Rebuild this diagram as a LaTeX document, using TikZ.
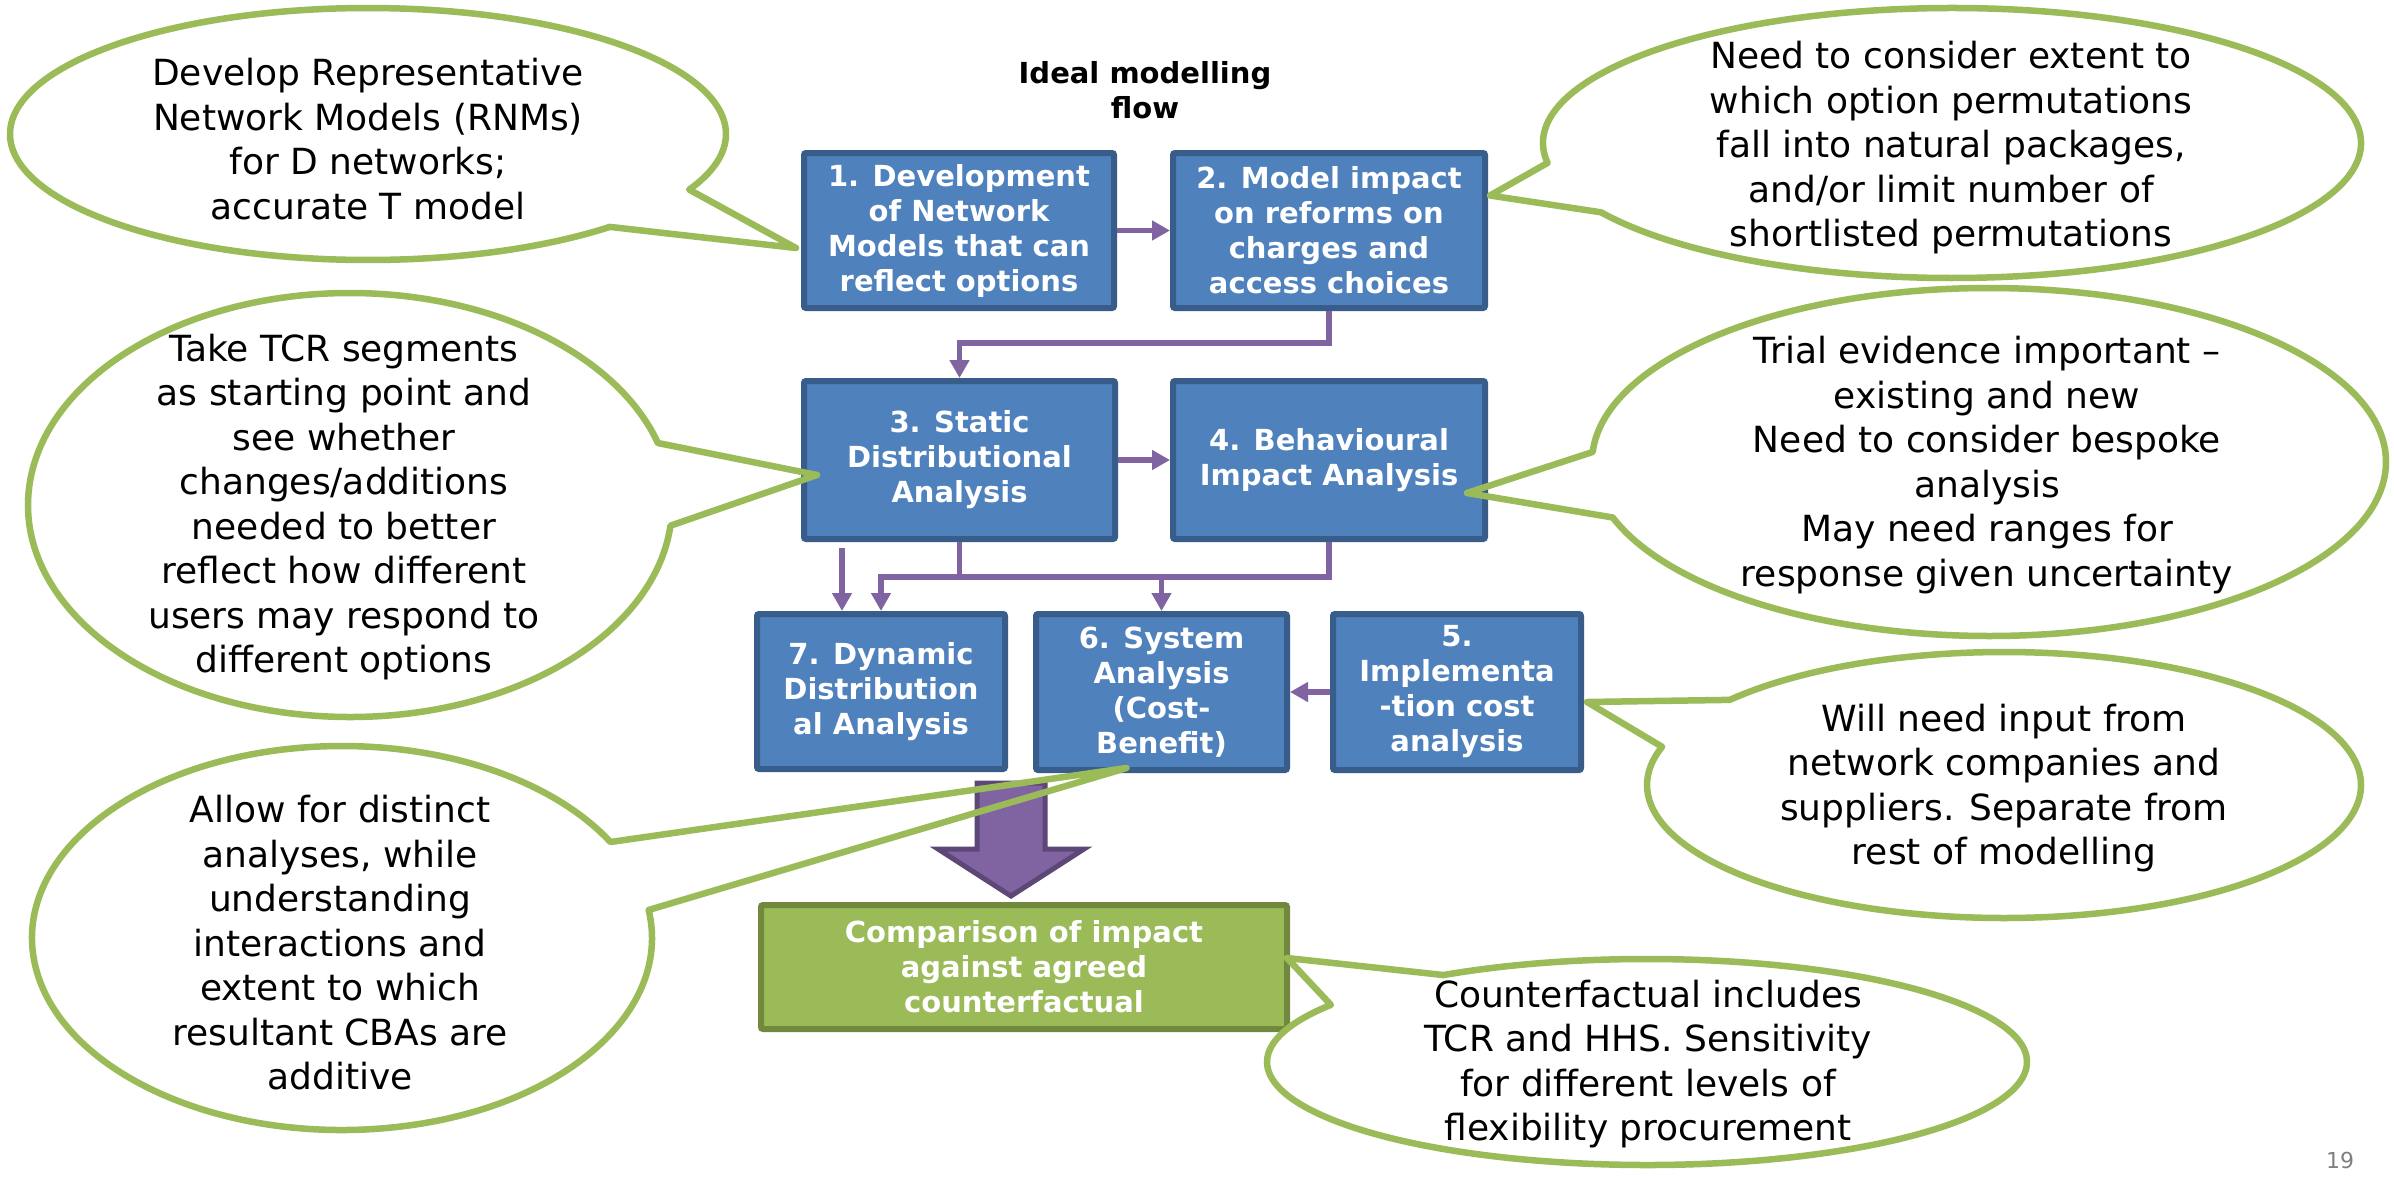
\documentclass[tikz,border=0pt]{standalone}
\usepackage{fontspec}
\setmainfont{DejaVu Sans}
\usetikzlibrary{arrows.meta,calc}

\definecolor{boxblue}{HTML}{4F81BD}
\definecolor{boxedge}{HTML}{385D8A}
\definecolor{leafgreen}{HTML}{9BBB59}
\definecolor{leafedge}{HTML}{71893F}
\definecolor{flowpurple}{HTML}{8064A2}
\definecolor{flowedge}{HTML}{5C4776}
\definecolor{pagegray}{HTML}{7F7F7F}

\tikzset{
  stage/.style={draw=boxedge, fill=boxblue, line width=6pt, rounded corners=2pt,
    text=white, font=\fontsize{29}{35}\selectfont\bfseries, align=center, inner sep=0pt},
  result/.style={stage, draw=leafedge, fill=leafgreen},
  flow/.style={draw=flowpurple, line width=5.5pt, -{Triangle[length=18pt,width=19pt]}},
  link/.style={draw=flowpurple, line width=5.5pt},
  bubble/.style={draw=leafgreen, line width=6.5pt, line join=round},
  note/.style={font=\fontsize{36}{44.5}\selectfont, align=center, inner sep=0pt},
}

% speech bubble: centre x, centre y, x radius, y radius, arc start, arc end, tip
\newcommand\speechbubble[7]{%
  \draw[bubble] (#1,#2) ++(#5:#3 and #4)
    arc[start angle=#5, end angle=#6, x radius=#3, y radius=#4] -- #7 -- cycle;}

\begin{document}
\begin{tikzpicture}[x=1pt,y=-1pt]
\useasboundingbox[fill=white] (0,0) rectangle (2394,1178);

% heading
\node[font=\fontsize{29}{35}\selectfont\bfseries, align=center] (title) at (1145,90)
  {Ideal modelling\\flow};

% modelling stages
\node[stage, minimum width=310pt, minimum height=155pt] (b1) at (959,230.5)
  {1. Development\\of Network\\Models that can\\reflect options};
\node[stage, minimum width=312pt, minimum height=155pt] (b2) at (1329,230.5)
  {2. Model impact\\on reforms on\\charges and\\access choices};
\node[stage, minimum width=311pt, minimum height=158pt] (b3) at (959.5,460)
  {3. Static\\Distributional\\Analysis};
\node[stage, minimum width=312pt, minimum height=158pt] (b4) at (1329,460)
  {4. Behavioural\\Impact Analysis};
\node[stage, minimum width=248pt, minimum height=155pt] (b7) at (881,691.5)
  {7. Dynamic\\Distribution\\al Analysis};
\node[stage, minimum width=251pt, minimum height=156pt] (b6) at (1161.5,692)
  {6. System\\Analysis\\(Cost-\\Benefit)};
\node[stage, minimum width=248pt, minimum height=156pt] (b5) at (1457,692)
  {5.\\Implementa\\-tion cost\\analysis};
\node[result, minimum width=526pt, minimum height=124pt] (gbox) at (1024,967)
  {Comparison of impact\\against agreed\\counterfactual};

% flow connectors
\draw[flow] (b1.east) -- (b2.west);
\draw[flow] (b2.south) -- ++(0,32) -| (b3.north);
\draw[flow] (b3.east) -- (b4.west);
\coordinate (bus) at ($(b4.south)+(0,35)$);
\draw[flow] (b4.south) -- (bus) -| (b7.north);
\draw[link] (b3.south) -- (b3.south |- bus);
\draw[flow] (b6.north |- bus) -- (b6.north);
\draw[flow] ($(b3.south west)+(41,6)$) -- ($(b7.north west)+(88,0)$);
\draw[flow] (b5.west) -- (b6.east);

% block arrow into the comparison
\coordinate (bt) at ($(gbox.north)+(-13,-6)$);
\draw[draw=flowedge, fill=flowpurple, line width=5pt, line join=miter]
  ($(bt)+(-34,-113)$) -- ++(68,0) -- ++(0,66) -- ++(39,0) -- (bt)
  -- ++(-73,-47) -- ++(39,0) -- cycle;

% comment bubbles
\speechbubble{368}{134}{358}{126}{47.5}{386.2}{($(b1.west)+(-5,17.5)$)}
\speechbubble{1952}{143}{409}{135}{171.5}{509.1}{($(b2.east)+(2,-35)$)}
\speechbubble{350}{505}{322}{212}{5.6}{343}{($(b3.west)+(16,15)$)}
\speechbubble{1989}{462}{397}{174}{183.3}{521.4}{($(b4.east)+(-21,33)$)}
\speechbubble{2004}{785}{357}{133}{219.8}{556.7}{($(b5.east)+(3,10)$)}
\speechbubble{342}{938}{310}{192}{-8.4}{330}{($(b6.south)+(-35,-5)$)}
\speechbubble{1647}{1062}{380}{103}{237.6}{573.7}{($(gbox.east)+(-3,-9)$)}

\node[note] (nA) at (368,139)
  {Develop Representative\\Network Models (RNMs)\\for D networks;\\accurate T model};
\node[note] (nB) at (1951,148)
  {Need to consider extent to\\which option permutations\\fall into natural packages,\\and/or limit number of\\shortlisted permutations};
\node[note] (nC) at (344,507)
  {Take TCR segments\\as starting point and\\see whether\\changes/additions\\needed to better\\reflect how different\\users may respond to\\different options};
\node[note] (nD) at (1987,465)
  {Trial evidence important \textendash\\existing and new\\Need to consider bespoke\\analysis\\May need ranges for\\response given uncertainty};
\node[note] (nE) at (2004,788)
  {Will need input from\\network companies and\\suppliers. Separate from\\rest of modelling};
\node[note] (nF) at (340,943)
  {Allow for distinct\\analyses, while\\understanding\\interactions and\\extent to which\\resultant CBAs are\\additive};
\node[note] (nG) at (1648,1064)
  {Counterfactual includes\\TCR and HHS. Sensitivity\\for different levels of\\flexibility procurement};

% slide number
\node[font=\fontsize{22}{26}\selectfont, text=pagegray] (pg) at (2340,1160) {19};
\end{tikzpicture}
\end{document}
